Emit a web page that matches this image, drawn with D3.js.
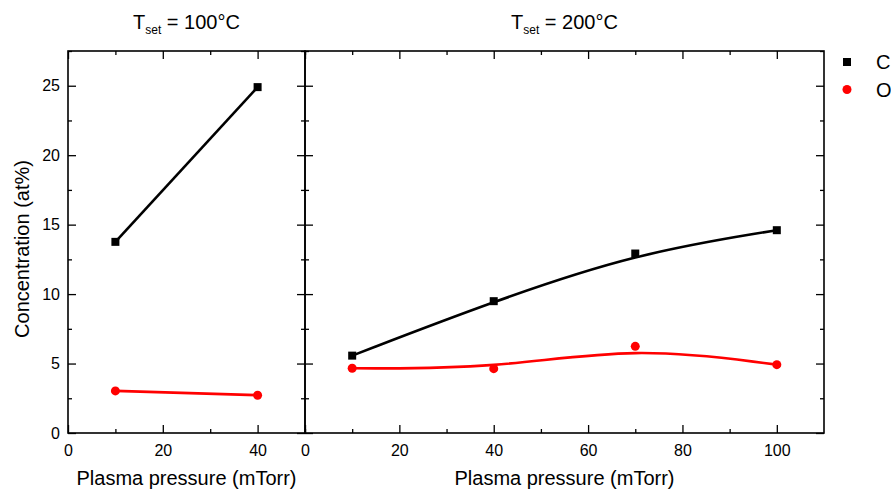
<!DOCTYPE html>
<html>
<head>
<meta charset="utf-8">
<script src="https://cdn.jsdelivr.net/npm/d3@7"></script>
<style>
  body {
    margin: 0;
    background: #ffffff;
  }

  svg {
    font-family: 'Liberation Sans', Arial, sans-serif;
  }

  text {
    fill: black;
  }

  .frame {
    fill: none;
    stroke: black;
    stroke-width: 1.6px;
  }

  .axis path {
    stroke: none;
  }

  .axis line {
    stroke: black;
    stroke-width: 1.3px;
  }

  .axis text {
    font-size: 16px;
  }

  .axis-title {
    font-size: 20px;
    text-anchor: middle;
  }

  .panel-title {
    font-size: 20px;
    text-anchor: middle;
  }

  .data-line {
    fill: none;
    stroke-width: 2.6px;
  }
</style>
</head>
<body>
<svg width="891" height="489" id="SVG"></svg>
<script>
// data
const leftPressure = [10, 40];
const leftCarbon = [13.76, 24.9];
const leftOxygen = [3.03, 2.72];

const rightPressure = [10, 40, 70, 100];
const rightCarbon = [5.57, 9.49, 12.92, 14.6];
const rightOxygen = [4.66, 4.63, 6.24, 4.92];

const panelTemps = ['100°C', '200°C'];
const seriesNames = ['C', 'O'];
const seriesColors = ['#000000', '#ff0000'];

const yMajorTicks = [0, 5, 10, 15, 20, 25];
const yMinorTicks = [2.5, 7.5, 12.5, 17.5, 22.5, 27.5];
const leftXMajor = [0, 20, 40];
const leftXMinor = [10, 30, 50];
const rightXMajor = [0, 20, 40, 60, 80, 100];
const rightXMinor = [10, 30, 50, 70, 90];

const svg = d3.select('#SVG');

const plotTop = 51;
const plotBottom = 433;

const y = d3.scaleLinear().domain([0, 27.5]).range([plotBottom, plotTop]);

const panels = [
  {
    x: d3.scaleLinear().domain([0, 50]).range([68, 305]),
    xMajor: leftXMajor,
    xMinor: leftXMinor,
    pressure: leftPressure,
    series: [leftCarbon, leftOxygen],
    temp: panelTemps[0],
  },
  {
    x: d3.scaleLinear().domain([0, 110]).range([305, 824]),
    xMajor: rightXMajor,
    xMinor: rightXMinor,
    pressure: rightPressure,
    series: [rightCarbon, rightOxygen],
    temp: panelTemps[1],
  },
];

function drawPanel(p, i) {
  const g = svg.append('g');
  const x0 = p.x.range()[0];
  const x1 = p.x.range()[1];

  // bottom, major + minor (inward)
  g.append('g')
    .attr('class', 'axis')
    .attr('transform', 'translate(0,' + plotBottom + ')')
    .call(d3.axisBottom(p.x).tickValues(p.xMajor).tickSizeInner(-8).tickSizeOuter(0).tickPadding(12));
  g.append('g')
    .attr('class', 'axis')
    .attr('transform', 'translate(0,' + plotBottom + ')')
    .call(d3.axisBottom(p.x).tickValues(p.xMinor).tickSizeInner(-4).tickSizeOuter(0).tickFormat(''));

  // top
  g.append('g')
    .attr('class', 'axis')
    .attr('transform', 'translate(0,' + plotTop + ')')
    .call(d3.axisTop(p.x).tickValues(p.xMajor).tickSizeInner(-8).tickSizeOuter(0).tickFormat(''));
  g.append('g')
    .attr('class', 'axis')
    .attr('transform', 'translate(0,' + plotTop + ')')
    .call(d3.axisTop(p.x).tickValues(p.xMinor).tickSizeInner(-4).tickSizeOuter(0).tickFormat(''));

  // left side
  const left = g.append('g')
    .attr('class', 'axis')
    .attr('transform', 'translate(' + x0 + ',0)')
    .call(d3.axisLeft(y).tickValues(yMajorTicks).tickSizeInner(-8).tickSizeOuter(0).tickPadding(8));
  if (i > 0) {
    left.selectAll('text').remove();
  }
  g.append('g')
    .attr('class', 'axis')
    .attr('transform', 'translate(' + x0 + ',0)')
    .call(d3.axisLeft(y).tickValues(yMinorTicks).tickSizeInner(-4).tickSizeOuter(0).tickFormat(''));

  // right side
  g.append('g')
    .attr('class', 'axis')
    .attr('transform', 'translate(' + x1 + ',0)')
    .call(d3.axisRight(y).tickValues(yMajorTicks).tickSizeInner(-8).tickSizeOuter(0).tickFormat(''));
  g.append('g')
    .attr('class', 'axis')
    .attr('transform', 'translate(' + x1 + ',0)')
    .call(d3.axisRight(y).tickValues(yMinorTicks).tickSizeInner(-4).tickSizeOuter(0).tickFormat(''));

  g.append('rect')
    .attr('class', 'frame')
    .attr('x', x0)
    .attr('y', plotTop)
    .attr('width', x1 - x0)
    .attr('height', plotBottom - plotTop);

  // lines (B-spline like the original)
  const line = d3.line()
    .x((d) => p.x(d[0]))
    .y((d) => y(d[1]))
    .curve(d3.curveBasis);

  p.series.forEach((vals, s) => {
    const pts = p.pressure.map((px, k) => [px, vals[k]]);
    g.append('path')
      .attr('class', 'data-line')
      .attr('stroke', seriesColors[s])
      .attr('d', line(pts));

    if (s === 0) {
      g.selectAll(null)
        .data(pts)
        .enter()
        .append('rect')
        .attr('x', (d) => p.x(d[0]) - 4)
        .attr('y', (d) => y(d[1]) - 4)
        .attr('width', 8)
        .attr('height', 8)
        .attr('fill', seriesColors[s]);
    } else {
      g.selectAll(null)
        .data(pts)
        .enter()
        .append('circle')
        .attr('cx', (d) => p.x(d[0]))
        .attr('cy', (d) => y(d[1]))
        .attr('r', 4.5)
        .attr('fill', seriesColors[s]);
    }
  });

  // titles
  const cx = (x0 + x1) / 2;
  const t = g.append('text')
    .attr('class', 'panel-title')
    .attr('x', cx)
    .attr('y', 29);
  t.append('tspan').text('T');
  t.append('tspan').attr('font-size', '12px').attr('dy', 5).text('set');
  t.append('tspan').attr('dy', -5).text(' = ' + p.temp);

  g.append('text')
    .attr('class', 'axis-title')
    .attr('x', cx)
    .attr('y', 485)
    .text('Plasma pressure (mTorr)');
}

panels.forEach(drawPanel);

svg.append('text')
  .attr('class', 'axis-title')
  .attr('transform', 'translate(29,249) rotate(-90)')
  .text('Concentration (at%)');

// legend
const legend = svg.append('g');
seriesNames.forEach((name, i) => {
  const ly = 62 + i * 27.5;
  if (i === 0) {
    legend.append('rect')
      .attr('x', 843).attr('y', ly - 4)
      .attr('width', 8).attr('height', 8)
      .attr('fill', seriesColors[i]);
  } else {
    legend.append('circle')
      .attr('cx', 847).attr('cy', ly)
      .attr('r', 4.5)
      .attr('fill', seriesColors[i]);
  }
  legend.append('text')
    .attr('x', 876)
    .attr('y', ly)
    .attr('dy', '0.36em')
    .style('font-size', '20px')
    .text(name);
});
</script>
</body>
</html>
